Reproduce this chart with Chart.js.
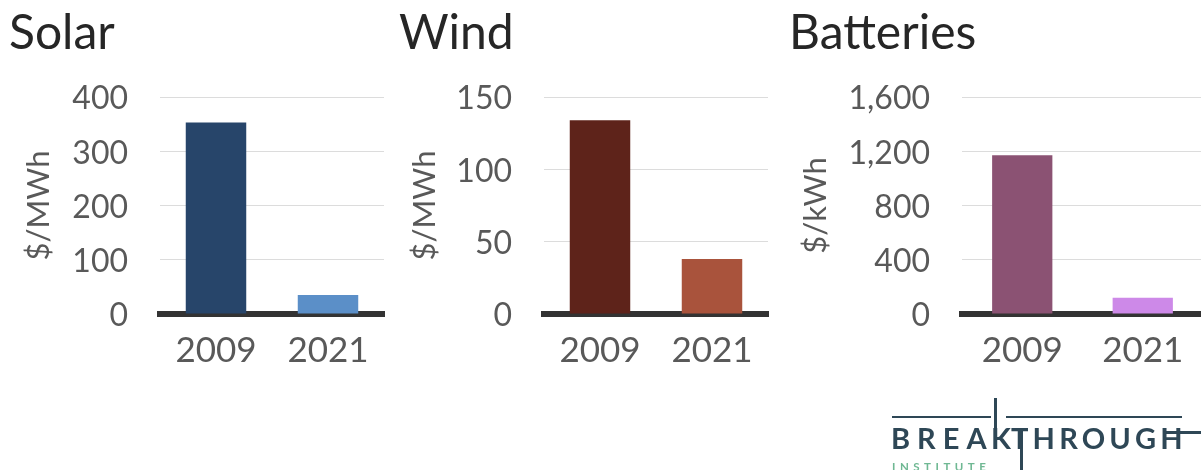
<!DOCTYPE html>
<html>
<head>
<meta charset="utf-8">
<script src="https://cdn.jsdelivr.net/npm/chart.js@4"></script>
<style>
  body { margin: 0; background: #fff; width: 1201px; height: 470px; overflow: hidden; position: relative; font-family: Lato, sans-serif; }
  canvas { position: absolute; top: 0; }
  #solarChart { left: 0; }
  #windChart { left: 390px; }
  #batteryChart { left: 780px; }
  .logo-line { position: absolute; background: #2e4756; }
  .logo-text { position: absolute; top: 423px; font: 700 29px Lato, sans-serif; color: #2e4756; line-height: 1; white-space: nowrap; }
  .logo-sub { position: absolute; left: 892px; top: 461px; font: 700 11.5px Lato, sans-serif; letter-spacing: 4.5px; color: #6fb893; line-height: 1; }
</style>
</head>
<body>
<canvas id="solarChart" width="390" height="400"></canvas>
<canvas id="windChart" width="384" height="400"></canvas>
<canvas id="batteryChart" width="425" height="400"></canvas>

<div class="logo-line" style="left:892px; top:416px; width:99px; height:2px;"></div>
<div class="logo-line" style="left:1006px; top:416px; width:176px; height:2px;"></div>
<div class="logo-line" style="left:994px; top:398px; width:3px; height:32px;"></div>
<div class="logo-line" style="left:1020px; top:428px; width:3px; height:42px;"></div>
<div class="logo-line" style="left:1165px; top:431px; width:36px; height:3px;"></div>
<div class="logo-text" style="left:891px; letter-spacing:7px;">BREA</div>
<div class="logo-text" style="left:991px;">K</div>
<div class="logo-text" style="left:1011px; letter-spacing:4.2px;">THROUGH</div>
<div class="logo-sub">INSTITUTE</div>

<script>
  const years = ['2009', '2021'];
  const solarCost = [353, 35];
  const windCost = [134, 38];
  const batteryCost = [1170, 120];

  const solarColors = ['#27456a', '#5b8fc8'];
  const windColors = ['#5e231a', '#a9533c'];
  const batteryColors = ['#8b5273', '#cd89e8'];

  function costChart(id, opts) {
    const ctx = document.getElementById(id).getContext('2d');
    return new Chart(ctx, {
      type: 'bar',
      data: {
        labels: years,
        datasets: [{
          data: opts.data,
          backgroundColor: opts.colors,
          barPercentage: opts.barPct,
          categoryPercentage: 1,
          borderWidth: 0
        }]
      },
      options: {
        responsive: false,
        animation: false,
        layout: { padding: { left: 9, right: opts.padRight, top: 0, bottom: 0 } },
        plugins: {
          legend: { display: false },
          tooltip: { enabled: false },
          title: {
            display: true,
            text: opts.title,
            align: 'start',
            color: '#262626',
            font: { family: 'Lato', size: 48, weight: 'normal', lineHeight: 1 },
            padding: { top: 10, bottom: 39 }
          }
        },
        scales: {
          x: {
            z: 1,
            grid: { display: false, drawTicks: false },
            border: { color: '#333333', width: 6 },
            ticks: { color: '#595959', padding: 16, font: { family: 'Lato', size: 35 } },
            afterFit: s => { s.height = 86; }
          },
          y: {
            min: 0,
            max: opts.max,
            ticks: { stepSize: opts.step, padding: 32, labelOffset: 2, color: '#595959', font: { family: 'Lato', size: 32 } },
            grid: {
              color: c => c.tick.value === 0 ? 'rgba(0,0,0,0)' : '#dcdcdc',
              lineWidth: 1,
              drawTicks: false
            },
            border: { display: false },
            title: {
              display: true,
              text: opts.unit,
              color: '#595959',
              font: { family: 'Lato', size: 31, lineHeight: 1 },
              padding: { top: opts.titlePad, bottom: 0 }
            },
            afterFit: s => { s.width = opts.axisWidth; }
          }
        }
      }
    });
  }

  // Solar
  costChart('solarChart', {
    title: 'Solar', unit: '$/MWh', data: solarCost, colors: solarColors,
    max: 400, step: 100, barPct: 0.54, padRight: 6, axisWidth: 151, titlePad: 14
  });

  // Wind
  costChart('windChart', {
    title: 'Wind', unit: '$/MWh', data: windCost, colors: windColors,
    max: 150, step: 50, barPct: 0.54, padRight: 6, axisWidth: 145, titlePad: 10
  });

  // Batteries
  costChart('batteryChart', {
    title: 'Batteries', unit: '$/kWh', data: batteryCost, colors: batteryColors,
    max: 1600, step: 400, barPct: 0.5, padRight: 2, axisWidth: 173, titlePad: 11
  });
</script>
</body>
</html>
